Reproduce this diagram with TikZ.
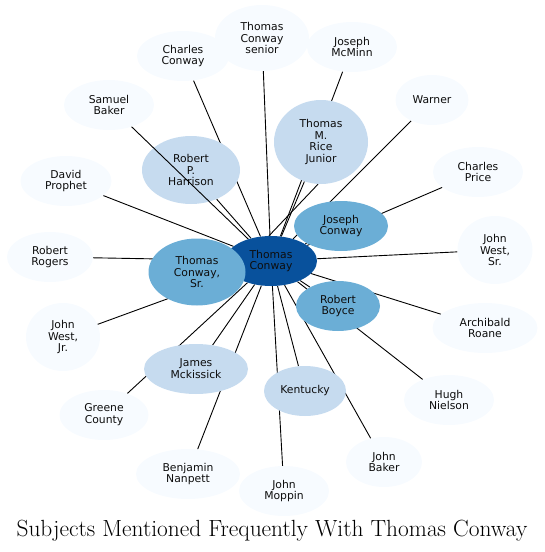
\documentclass[tikz,border=0pt]{standalone}
\usepackage{fontspec}
\newfontfamily\nodefont{DejaVu Sans}
\usetikzlibrary{shapes.geometric}
\pgfdeclarelayer{background}
\pgfsetlayers{background,main}
\definecolor{cdark}{HTML}{08519C}
\definecolor{cmid}{HTML}{6BAED6}
\definecolor{clight}{HTML}{C6DBEF}
\definecolor{cpale}{HTML}{F7FBFF}
\tikzset{
  ent/.style={ellipse, inner sep=0pt, align=center, font=\nodefont\fontsize{10.8}{11.8}\selectfont, text=black!95},
  pale/.style={ent, fill=cpale},
  light/.style={ent, fill=clight},
  mid/.style={ent, fill=cmid},
  dark/.style={ent, fill=cdark},
  sz/.style n args={2}{minimum width=#1pt, minimum height=#2pt},
  link/.style={draw=black, line width=0.9pt},
}
\begin{document}
\begin{tikzpicture}[x=1pt,y=-1pt]
\useasboundingbox (0,0) rectangle (545,552);
% center
\node[dark, sz={92}{50}] (c) at (271,261) {Thomas\\Conway};
\node[mid, sz={97}{67}] (tcsr) at (197,272) {Thomas\\Conway,\\Sr.};
\node[mid, sz={94}{50}] (jc) at (341,226) {Joseph\\Conway};
\node[mid, sz={84}{50}] (rb) at (338,306) {Robert\\Boyce};
\node[light, sz={98}{68}] (rph) at (191,170) {Robert\\P.\\Harrison};
\node[light, sz={94}{84}] (tmr) at (321,142) {Thomas\\M.\\Rice\\Junior};
\node[light, sz={104}{50}] (jm) at (196,369) {James\\Mckissick};
\node[light, sz={82}{50}] (ky) at (305,391) {Kentucky};
% outer
\node[pale, sz={94}{66}] (tcs) at (262,38) {Thomas\\Conway\\senior};
\node[pale, sz={90}{50}] (jmm) at (352,47) {Joseph\\McMinn};
\node[pale, sz={92}{50}] (cc) at (183,56) {Charles\\Conway};
\node[pale, sz={73}{50}] (wa) at (432,100) {Warner};
\node[pale, sz={90}{50}] (sb) at (109,105) {Samuel\\Baker};
\node[pale, sz={90}{50}] (cp) at (478,172) {Charles\\Price};
\node[pale, sz={91}{50}] (dp) at (66,181) {David\\Prophet};
\node[pale, sz={75}{68}] (jws) at (495,250) {John\\West,\\Sr.};
\node[pale, sz={86}{50}] (rr) at (50,257) {Robert\\Rogers};
\node[pale, sz={105}{50}] (ar) at (485,328) {Archibald\\Roane};
\node[pale, sz={74}{68}] (jwj) at (63,337) {John\\West,\\Jr.};
\node[pale, sz={90}{50}] (hn) at (449,400) {Hugh\\Nielson};
\node[pale, sz={89}{50}] (gc) at (104,415) {Greene\\County};
\node[pale, sz={104}{50}] (bn) at (188,474) {Benjamin\\Nanpett};
\node[pale, sz={90}{50}] (jmo) at (284,491) {John\\Moppin};
\node[pale, sz={76}{50}] (jb) at (384,462) {John\\Baker};
% edges
\begin{pgfonlayer}{background}
\foreach \t in {tcsr,jc,rb,rph,tmr,jm,ky,tcs,jmm,cc,wa,cp,dp,jws,rr,ar,jwj,hn,gc,bn,jmo,jb}
  \draw[link] (c) -- (\t);
\draw[link] ([xshift=-2pt]c.north) -- ([xshift=-3pt]tmr.south);
\end{pgfonlayer}
\draw[link] (sb) -- (c);
% title
\node[font=\fontsize{23.4}{27}\selectfont, anchor=base] (title) at (272,536) {Subjects Mentioned Frequently With Thomas Conway};
\end{tikzpicture}
\end{document}
